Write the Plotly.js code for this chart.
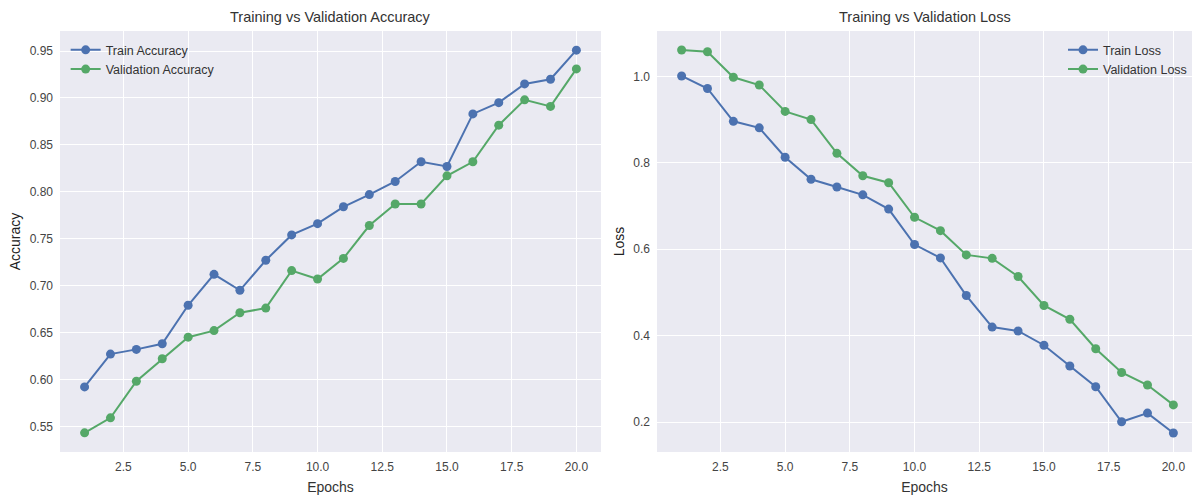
<!DOCTYPE html>
<html>
<head>
<meta charset="utf-8">
<script src="https://cdn.plot.ly/plotly-3.0.1.min.js"></script>
<style>html,body{margin:0;padding:0;background:#fff;}#chart{width:1192px;height:497px;}</style>
</head>
<body>
<div id="chart"></div>
<script>
const epochs = [1,2,3,4,5,6,7,8,9,10,11,12,13,14,15,16,17,18,19,20];
const trainAcc = [0.592,0.627,0.632,0.638,0.679,0.712,0.695,0.727,0.754,0.766,0.784,0.797,0.811,0.832,0.827,0.883,0.895,0.915,0.920,0.951];
const valAcc = [0.543,0.559,0.598,0.622,0.645,0.652,0.671,0.676,0.716,0.707,0.729,0.764,0.787,0.787,0.817,0.832,0.871,0.898,0.891,0.931];
const trainLoss = [1.001,0.972,0.896,0.881,0.813,0.762,0.744,0.726,0.693,0.611,0.580,0.493,0.420,0.411,0.378,0.330,0.282,0.201,0.221,0.175];
const valLoss = [1.061,1.057,0.998,0.980,0.919,0.900,0.822,0.770,0.754,0.674,0.643,0.587,0.579,0.537,0.470,0.438,0.370,0.315,0.286,0.240];
const accTicks = [0.55,0.60,0.65,0.70,0.75,0.80,0.85,0.90,0.95];
const lossTicks = [0.2,0.4,0.6,0.8,1.0];
const xTicks = [2.5,5.0,7.5,10.0,12.5,15.0,17.5,20.0];

const BLUE = '#4C72B0', GREEN = '#55A868';
const NARROW = '"Liberation Sans Narrow", "Arial Narrow", "Liberation Sans", Arial, sans-serif';
const REG = '"Liberation Sans", Arial, sans-serif';

function tr(x, y, name, color, xa, ya, leg) {
  return {x: x, y: y, name: name, type: 'scatter', mode: 'lines+markers',
    xaxis: xa, yaxis: ya, legend: leg,
    line: {color: color, width: 2},
    marker: {color: color, size: 9, symbol: 'circle'}};
}

const data = [
  tr(epochs, trainAcc, 'Train Accuracy', BLUE, 'x', 'y', 'legend'),
  tr(epochs, valAcc, 'Validation Accuracy', GREEN, 'x', 'y', 'legend'),
  tr(epochs, trainLoss, 'Train Loss', BLUE, 'x2', 'y2', 'legend2'),
  tr(epochs, valLoss, 'Validation Loss', GREEN, 'x2', 'y2', 'legend2')
];

const tickFont = {family: NARROW, size: 12, color: '#444'};
function xax(domain, range) {
  return {domain: domain, range: range, tickvals: xTicks, ticktext: xTicks.map(v => v.toFixed(1)),
    showgrid: true, gridcolor: '#ffffff', gridwidth: 1, zeroline: false, showline: false,
    ticks: '', tickfont: tickFont, ticklabelstandoff: 6,
    title: {text: 'Epochs', font: {family: NARROW, size: 14, color: '#333'}, standoff: 9}};
}
function yax(range, ticks, dec, anchor, title) {
  return {domain: [0, 1], range: range, tickvals: ticks, ticktext: ticks.map(v => v.toFixed(dec)),
    anchor: anchor, showgrid: true, gridcolor: '#ffffff', gridwidth: 1, zeroline: false, showline: false,
    ticks: '', tickfont: tickFont, ticklabelstandoff: 6,
    title: {text: title, font: {family: REG, size: 14, color: '#222'}, standoff: 5}};
}

const layout = {
  width: 1192, height: 497,
  margin: {l: 60, r: 0, t: 31, b: 45},
  paper_bgcolor: '#ffffff', plot_bgcolor: '#EAEAF2',
  showlegend: true,
  xaxis: xax([0, 0.4779], [0.05, 20.95]),
  yaxis: yax([0.5226, 0.9714], accTicks, 2, 'x', 'Accuracy'),
  xaxis2: Object.assign(xax([0.5274, 1], [0.05, 20.72]), {anchor: 'y2'}),
  yaxis2: yax([0.131, 1.105], lossTicks, 1, 'x2', 'Loss'),
  legend: {x: 0.005, y: 0.99, xanchor: 'left', yanchor: 'top', bgcolor: 'rgba(0,0,0,0)',
    font: {family: NARROW, size: 12.5, color: '#333'}, tracegroupgap: 0},
  legend2: {x: 1.0, y: 0.99, xanchor: 'right', yanchor: 'top', bgcolor: 'rgba(0,0,0,0)',
    font: {family: NARROW, size: 12.5, color: '#333'}, tracegroupgap: 0},
  annotations: [
    {text: 'Training vs Validation Accuracy', xref: 'paper', yref: 'paper', x: 0.2390, y: 1, yshift: 14,
      xanchor: 'center', yanchor: 'middle', showarrow: false, font: {family: NARROW, size: 14.5, color: '#333'}},
    {text: 'Training vs Validation Loss', xref: 'paper', yref: 'paper', x: 0.7637, y: 1, yshift: 14,
      xanchor: 'center', yanchor: 'middle', showarrow: false, font: {family: NARROW, size: 14.5, color: '#333'}}
  ]
};

Plotly.newPlot('chart', data, layout, {displayModeBar: false, staticPlot: true});
</script>
</body>
</html>
